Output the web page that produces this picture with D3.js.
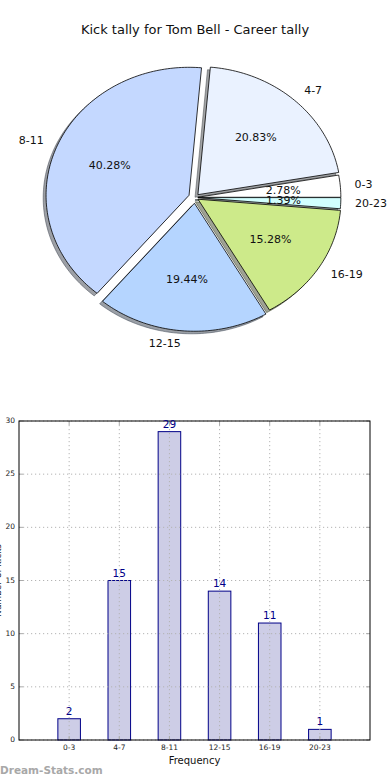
<!DOCTYPE html>
<html>
<head>
<meta charset="utf-8">
<script src="https://cdn.jsdelivr.net/npm/d3@7"></script>
<style>
html,body{margin:0;padding:0;background:#fff;}
svg{display:block;font-family:"DejaVu Sans",sans-serif;}
</style>
</head>
<body>
<svg id="chart" width="390" height="780"></svg>
<script>
// ---- data ----
const title = "Kick tally for Tom Bell - Career tally";
const categories = ["0-3", "4-7", "8-11", "12-15", "16-19", "20-23"];
const counts = [2, 15, 29, 14, 11, 1];
const explode = [0.02, 0.03, 0.045, 0.045, 0.025, 0.02];
const pieColors = ["#ffffff", "#eaf2ff", "#c4d8ff", "#b5d5ff", "#cdea8a", "#d2ffff"];
const yTicks = [0, 5, 10, 15, 20, 25, 30];
const xLabel = "Frequency";
const yLabel = "Number of kicks";
const watermark = "Dream-Stats.com";

const svg = d3.select("#chart");

// ---- title ----
svg.append("text").attr("x", 195).attr("y", 30).attr("text-anchor", "middle")
  .attr("dominant-baseline", "middle").attr("font-size", 13).attr("fill", "#111").text(title);

// ---- pie (elliptical, matplotlib style: start at 3 o'clock, counter-clockwise) ----
const cx = 195, cy = 197.5, rx = 143, ry = 128;
const pie = d3.pie().sort(null).value(d => d)(counts);
const total = d3.sum(counts);
const pg = svg.append("g");

function wedgePath(a0, a1, ox, oy) {
  const p = d3.path();
  p.moveTo(ox, oy);
  const n = Math.max(4, Math.ceil((a1 - a0) / 0.02));
  for (let i = 0; i <= n; i++) {
    const t = a0 + (a1 - a0) * i / n;
    p.lineTo(ox + rx * Math.cos(t), oy - ry * Math.sin(t));
  }
  p.closePath();
  return p.toString();
}

const wedges = pie.map((d, i) => {
  const a0 = d.startAngle, a1 = d.endAngle, am = (a0 + a1) / 2;
  const e = explode[i];
  return {i, a0, a1, am, e, ox: cx + e * rx * Math.cos(am), oy: cy - e * ry * Math.sin(am)};
});

// shadows
wedges.forEach(w => {
  const c = d3.rgb(pieColors[w.i]);
  const sc = `rgba(${c.r * 0.3},${c.g * 0.3},${c.b * 0.3},0.5)`;
  pg.append("path").attr("d", wedgePath(w.a0, w.a1, w.ox - 0.02 * rx, w.oy + 0.02 * ry))
    .attr("fill", sc).attr("stroke", sc).attr("stroke-width", 1);
});
// wedges
wedges.forEach(w => {
  pg.append("path").attr("d", wedgePath(w.a0, w.a1, w.ox, w.oy))
    .attr("fill", pieColors[w.i]).attr("stroke", "#000").attr("stroke-width", 0.8)
    .attr("stroke-linejoin", "miter");
});
// labels
wedges.forEach(w => {
  const ca = Math.cos(w.am), sa = Math.sin(w.am);
  const lx = cx + rx * (1.1 + w.e) * ca, ly = cy - ry * (1.1 + w.e) * sa;
  pg.append("text").attr("x", lx).attr("y", ly)
    .attr("text-anchor", ca > 0 ? "start" : "end").attr("dominant-baseline", "middle")
    .attr("font-size", 11).attr("fill", "#111").text(categories[w.i]);
  const px = cx + rx * (0.6 + w.e) * ca, py = cy - ry * (0.6 + w.e) * sa;
  pg.append("text").attr("x", px).attr("y", py)
    .attr("text-anchor", "middle").attr("dominant-baseline", "middle")
    .attr("font-size", 11).attr("fill", "#111")
    .text((counts[w.i] / total * 100).toFixed(2) + "%");
});

// ---- bar chart ----
const L = 19, R = 370, T = 421, B = 740;
const x = d3.scaleLinear().domain([-1, categories.length]).range([L, R]);
const y = d3.scaleLinear().domain([0, 30]).range([B, T]);
const bw = x(0.45) - x(0);
const bg = svg.append("g");

// bars
bg.selectAll("rect.bar").data(counts).enter().append("rect")
  .attr("x", (d, i) => x(i) - bw / 2).attr("y", d => y(d))
  .attr("width", bw).attr("height", d => B - y(d))
  .attr("fill", "#cdcde6").attr("stroke", "#000088").attr("stroke-width", 1);

// grid
bg.selectAll("line.hg").data(yTicks).enter().append("line")
  .attr("x1", L).attr("x2", R).attr("y1", d => y(d)).attr("y2", d => y(d))
  .attr("stroke", "#b4b4b4").attr("stroke-width", 1).attr("stroke-dasharray", "1.2,2.8");
bg.selectAll("line.vg").data(categories).enter().append("line")
  .attr("x1", (d, i) => x(i)).attr("x2", (d, i) => x(i)).attr("y1", T).attr("y2", B)
  .attr("stroke", "#b4b4b4").attr("stroke-width", 1).attr("stroke-dasharray", "1.2,2.8");

// ticks inward
categories.forEach((c, i) => {
  bg.append("line").attr("x1", x(i)).attr("x2", x(i)).attr("y1", B).attr("y2", B - 4).attr("stroke", "#aaa");
  bg.append("line").attr("x1", x(i)).attr("x2", x(i)).attr("y1", T).attr("y2", T + 4).attr("stroke", "#aaa");
});
yTicks.forEach(t => {
  bg.append("line").attr("x1", L).attr("x2", L + 4).attr("y1", y(t)).attr("y2", y(t)).attr("stroke", "#aaa");
  bg.append("line").attr("x1", R).attr("x2", R - 4).attr("y1", y(t)).attr("y2", y(t)).attr("stroke", "#aaa");
});

// frame
bg.append("rect").attr("x", L).attr("y", T).attr("width", R - L).attr("height", B - T)
  .attr("fill", "none").attr("stroke", "#000").attr("stroke-width", 1);

// tick labels
bg.selectAll("text.xt").data(categories).enter().append("text")
  .attr("x", (d, i) => x(i)).attr("y", B + 8).attr("text-anchor", "middle")
  .attr("dominant-baseline", "middle").attr("font-size", 7.5).attr("fill", "#222").text(d => d);
bg.selectAll("text.yt").data(yTicks).enter().append("text")
  .attr("x", L - 4).attr("y", d => y(d)).attr("text-anchor", "end")
  .attr("dominant-baseline", "middle").attr("font-size", 7.5).attr("fill", "#222").text(d => d);

// value labels
bg.selectAll("text.val").data(counts).enter().append("text")
  .attr("x", (d, i) => x(i)).attr("y", d => y(d) - 4).attr("text-anchor", "middle")
  .attr("font-size", 10.5).attr("fill", "#000088").text(d => d);

// axis labels
bg.append("text").attr("x", (L + R) / 2).attr("y", 761).attr("text-anchor", "middle")
  .attr("dominant-baseline", "middle").attr("font-size", 10).attr("fill", "#111").text(xLabel);
bg.append("text").attr("transform", `translate(1,${(T + B) / 2}) rotate(-90)`)
  .attr("text-anchor", "middle").attr("font-size", 9).attr("fill", "#111").text(yLabel);

// watermark
svg.append("text").attr("x", 0).attr("y", 771).attr("dominant-baseline", "middle")
  .attr("font-size", 10.5).attr("font-weight", "bold").attr("fill", "#a8a8a8")
  .text(watermark);
</script>
</body>
</html>
